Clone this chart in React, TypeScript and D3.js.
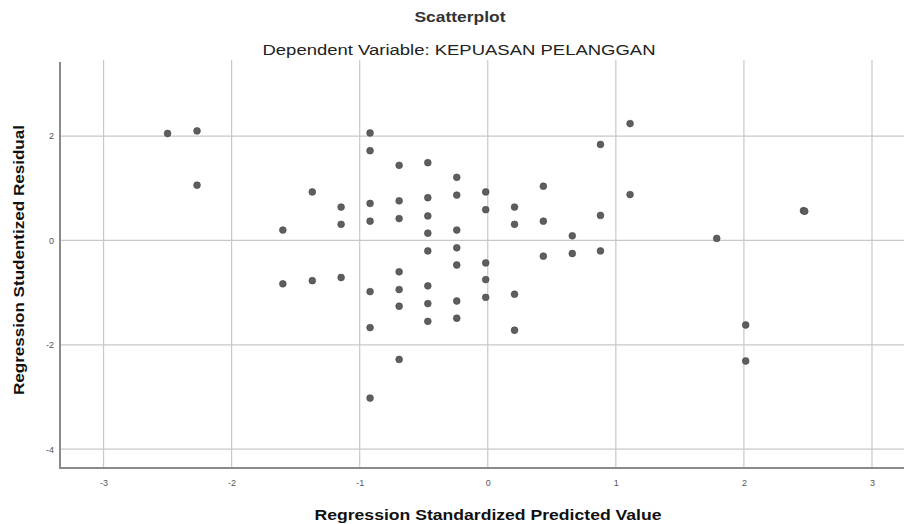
import React, { useEffect, useRef } from 'react';
import * as d3 from 'd3';

// predicted values come in discrete steps, residuals listed per step
const predictedLevels = [
  -2.5, -2.27, -1.6, -1.37, -1.145, -0.919, -0.692, -0.468, -0.242, -0.016,
  0.209, 0.434, 0.66, 0.88, 1.111, 1.788, 2.014, 2.465, 2.475,
];
const residualsByLevel = [
  [2.05],
  [2.1, 1.06],
  [0.2, -0.83],
  [0.93, -0.77],
  [0.64, 0.31, -0.71],
  [2.06, 1.72, 0.71, 0.37, -0.98, -1.67, -3.02],
  [1.44, 0.76, 0.42, -0.6, -0.94, -1.26, -2.28],
  [1.49, 0.82, 0.47, 0.14, -0.2, -0.87, -1.21, -1.55],
  [1.21, 0.87, 0.2, -0.14, -0.47, -1.16, -1.49],
  [0.93, 0.59, -0.43, -0.75, -1.09],
  [0.64, 0.31, -1.03, -1.72],
  [1.04, 0.37, -0.3],
  [0.09, -0.25],
  [1.84, 0.48, -0.2],
  [2.24, 0.88],
  [0.04],
  [-1.62, -2.31],
  [0.57],
  [0.56],
];
const xTicks = [-3, -2, -1, 0, 1, 2, 3];
const yTicks = [2, 0, -2, -4];

const title = 'Scatterplot';
const subtitle = 'Dependent Variable: KEPUASAN PELANGGAN';
const xTitle = 'Regression Standardized Predicted Value';
const yTitle = 'Regression Studentized Residual';

const W = 904;
const H = 524;

const App = () => {
  const svgRef = useRef<SVGSVGElement>(null);

  useEffect(() => {
    const svg = d3.select(svgRef.current);
    svg.selectAll('*').remove();

    const left = 60, right = W, top = 62, bottom = 468;
    const font = '"Liberation Sans", Arial, sans-serif';
    const fmt = (d: any) => String(d); // plain hyphen minus like SPSS

    const x = d3.scaleLinear().domain([-3.34, 3.25]).range([left, right]);
    const y = d3.scaleLinear().domain([-4.36, 3.42]).range([bottom, top]);

    const points = predictedLevels.flatMap((p, i) =>
      residualsByLevel[i].map(r => ({ p, r }))
    );

    // grid lines
    svg.append('g')
      .selectAll('line')
      .data(xTicks)
      .enter().append('line')
      .attr('x1', d => x(d)).attr('x2', d => x(d))
      .attr('y1', top - 2).attr('y2', bottom)
      .attr('stroke', '#c8c8c8')
      .attr('stroke-width', 1.2);

    svg.append('g')
      .selectAll('line')
      .data(yTicks)
      .enter().append('line')
      .attr('x1', left).attr('x2', right)
      .attr('y1', d => y(d)).attr('y2', d => y(d))
      .attr('stroke', '#c8c8c8')
      .attr('stroke-width', 1.2);

    // axes (labels only, lines drawn separately)
    const xAxis = svg.append('g')
      .attr('transform', `translate(0, ${bottom})`)
      .call(d3.axisBottom(x).tickValues(xTicks).tickSize(0).tickPadding(12).tickFormat(fmt));
    const yAxis = svg.append('g')
      .attr('transform', `translate(${left}, 0)`)
      .call(d3.axisLeft(y).tickValues(yTicks).tickSize(0).tickPadding(6).tickFormat(fmt));

    [xAxis, yAxis].forEach(g => {
      g.select('.domain').remove();
      g.selectAll('text')
        .style('font-family', font)
        .style('font-size', '9px')
        .style('fill', '#555');
    });

    svg.append('line')
      .attr('x1', left).attr('x2', left)
      .attr('y1', top).attr('y2', bottom + 1)
      .attr('stroke', '#8a8a8a').attr('stroke-width', 2);
    svg.append('line')
      .attr('x1', left - 1).attr('x2', right)
      .attr('y1', bottom).attr('y2', bottom)
      .attr('stroke', '#8a8a8a').attr('stroke-width', 2);

    // points
    svg.append('g')
      .selectAll('circle')
      .data(points)
      .enter().append('circle')
      .attr('cx', d => x(d.p))
      .attr('cy', d => y(d.r))
      .attr('r', 3.4)
      .attr('fill', '#5e5e5e')
      .attr('stroke', '#474747')
      .attr('stroke-width', 0.6);

    // titles
    svg.append('text')
      .attr('x', 460).attr('y', 22)
      .attr('text-anchor', 'middle')
      .attr('textLength', 91).attr('lengthAdjust', 'spacingAndGlyphs')
      .style('font-family', font).style('font-size', '14px').style('font-weight', 'bold')
      .style('fill', '#333')
      .text(title);

    svg.append('text')
      .attr('x', 459).attr('y', 55)
      .attr('text-anchor', 'middle')
      .attr('textLength', 393).attr('lengthAdjust', 'spacingAndGlyphs')
      .style('font-family', font).style('font-size', '14px')
      .style('fill', '#222')
      .text(subtitle);

    svg.append('text')
      .attr('x', 488).attr('y', 520)
      .attr('text-anchor', 'middle')
      .attr('textLength', 347).attr('lengthAdjust', 'spacingAndGlyphs')
      .style('font-family', font).style('font-size', '14px').style('font-weight', 'bold')
      .style('fill', '#111')
      .text(xTitle);

    svg.append('text')
      .attr('transform', `translate(24, 260) rotate(-90)`)
      .attr('text-anchor', 'middle')
      .attr('textLength', 270).attr('lengthAdjust', 'spacingAndGlyphs')
      .style('font-family', font).style('font-size', '14px').style('font-weight', 'bold')
      .style('fill', '#111')
      .text(yTitle);
  }, []);

  return (
    <svg
      ref={svgRef}
      width={W}
      height={H}
      style={{ position: 'absolute', left: 0, top: 0, background: '#fff' }}
    />
  );
};

export default App;
